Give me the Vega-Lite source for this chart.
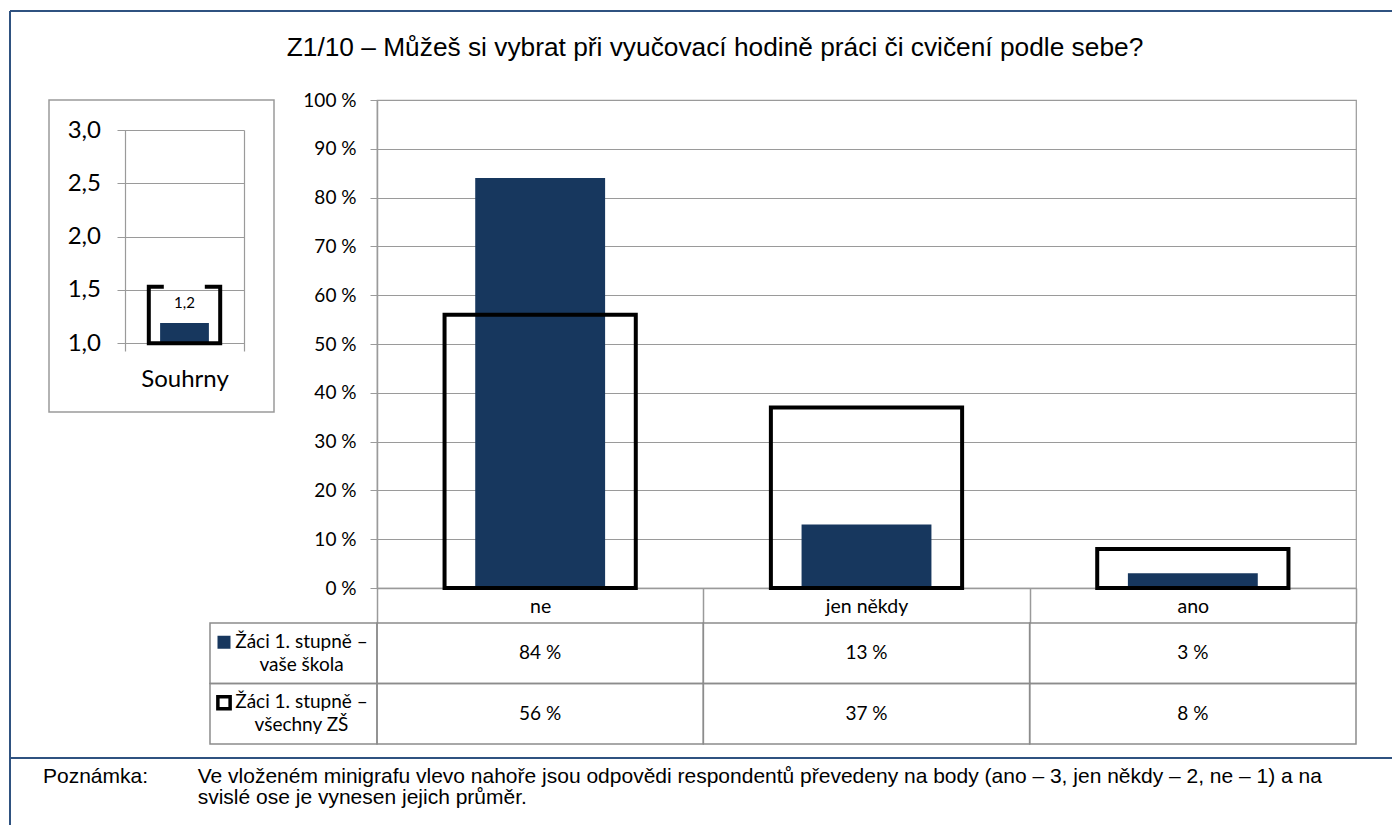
{
  "$schema": "https://vega.github.io/schema/vega-lite/v6.json",
  "padding": {"left": 9, "top": 10, "right": 0, "bottom": 0},
  "background": "white",
  "columns": 3,
  "align": "each",
  "bounds": "flush",
  "spacing": 0,
  "config": {
    "locale": {"number": {"decimal": ",", "thousands": " ", "grouping": [3], "currency": ["", " Kč"]}},
    "font": "Lato",
    "view": {"stroke": null},
    "axis": {"labelFont": "Lato", "labelColor": "#000000", "labelFontSize": 19, "title": null},
    "text": {"font": "Lato", "color": "#000000"}
  },
  "concat": [
    {
      "width": 39,
      "height": 89,
      "view": {"stroke": "#2F5280", "strokeWidth": 2, "strokeDash": [39, 128, 89, 0]},
      "data": {"values": []},
      "mark": "point"
    },
    {
      "width": 328,
      "height": 89,
      "view": {"stroke": "#2F5280", "strokeWidth": 2, "strokeDash": [328, 506]},
      "data": {"values": []},
      "mark": "point"
    },
    {
      "width": 1017,
      "height": 89,
      "view": {"stroke": "#2F5280", "strokeWidth": 2, "strokeDash": [1017, 1195]},
      "data": {"values": [{"t": "Z1/10 – Můžeš si vybrat při vyučovací hodině práci či cvičení podle sebe?"}]},
      "mark": {"type": "text", "font": "Liberation Sans", "fontSize": 26.3, "dx": -170.5, "dy": -7.5, "baseline": "middle", "align": "center", "color": "#000000"},
      "encoding": {"text": {"field": "t"}}
    },
    {
      "width": 39,
      "height": 523,
      "view": {"stroke": "#2F5280", "strokeWidth": 2, "strokeDash": [0, 601, 523, 0]},
      "data": {"values": []},
      "mark": "point"
    },
    {
      "width": 225,
      "height": 312,
      "view": {"stroke": "#9A9A9A", "strokeWidth": 1.5},
      "data": {"values": [{"kategorie": "Souhrny", "skola": 1.19, "vsechny": 1.53}]},
      "encoding": {
        "x": {
          "field": "kategorie", "type": "nominal",
          "scale": {"paddingInner": 0, "paddingOuter": 0.4454, "align": 0.717},
          "axis": {"orient": "bottom", "offset": -61, "domain": false, "tickBand": "extent", "tickSize": -221, "tickColor": "#9A9A9A", "tickWidth": 1.2, "labelPadding": 249, "labelBaseline": "middle", "labelAngle": 0, "labelFontSize": 24, "title": null}
        }
      },
      "layer": [
        {
          "mark": {"type": "bar", "width": {"band": 0.41}, "color": "#17375E"},
          "encoding": {
            "y": {
              "field": "skola", "type": "quantitative",
              "scale": {"domain": [0.356, 3.2813], "nice": false, "zero": false},
              "axis": {"orient": "left", "offset": -68, "values": [1, 1.5, 2, 2.5, 3], "labelExpr": "replace(format(datum.value, '.1f'), '.', ',')", "domain": false, "grid": false, "ticks": true, "tickSize": -127, "tickColor": "#9A9A9A", "tickWidth": 1.2, "labelPadding": 143.5, "labelFontSize": 24, "title": null}
            },
            "y2": {"datum": 1}
          }
        },
        {
          "mark": {"type": "bar", "width": {"band": 0.6}, "fill": "transparent", "stroke": "#000000", "strokeWidth": 4, "strokeDash": [15, 41, 2000]},
          "encoding": {
            "y": {"field": "vsechny", "type": "quantitative"},
            "y2": {"datum": 1}
          }
        },
        {
          "mark": {"type": "text", "dy": -20, "fontSize": 15, "baseline": "middle"},
          "encoding": {
            "y": {"field": "skola", "type": "quantitative"},
            "text": {"field": "skola", "type": "quantitative", "format": ".1f"}
          }
        }
      ]
    },
    {
      "width": 979,
      "height": 488,
      "view": {"stroke": "#9A9A9A", "strokeWidth": 1.2},
      "data": {"values": [
        {"odpoved": "ne", "skola": 84, "vsechny": 56},
        {"odpoved": "jen někdy", "skola": 13, "vsechny": 37},
        {"odpoved": "ano", "skola": 3, "vsechny": 8}
      ]},
      "encoding": {
        "x": {
          "field": "odpoved", "type": "nominal", "sort": ["ne", "jen někdy", "ano"],
          "scale": {"paddingInner": 0, "paddingOuter": 0},
          "axis": {"orient": "bottom", "domainColor": "#9A9A9A", "domainWidth": 1.5, "tickBand": "extent", "tickSize": 35, "tickColor": "#9A9A9A", "tickWidth": 1.5, "labelPadding": -17, "labelBaseline": "middle", "labelAngle": 0, "labelFontSize": 19.5, "title": null}
        }
      },
      "layer": [
        {
          "mark": {"type": "bar", "width": {"band": 0.398}, "color": "#17375E"},
          "encoding": {
            "y": {
              "field": "skola", "type": "quantitative",
              "scale": {"domain": [0, 100], "nice": false},
              "axis": {"values": [0, 10, 20, 30, 40, 50, 60, 70, 80, 90, 100], "labelExpr": "datum.value + ' %'", "grid": true, "gridColor": "#9A9A9A", "gridWidth": 1.2, "domainColor": "#9A9A9A", "domainWidth": 1.5, "tickColor": "#9A9A9A", "tickSize": 7, "labelPadding": 14, "labelFontSize": 19, "title": null}
            }
          }
        },
        {
          "mark": {"type": "bar", "width": {"band": 0.586}, "fill": "transparent", "stroke": "#000000", "strokeWidth": 4},
          "encoding": {"y": {"field": "vsechny", "type": "quantitative"}}
        }
      ]
    },
    {
      "width": 39,
      "height": 135,
      "view": {"stroke": "#2F5280", "strokeWidth": 2, "strokeDash": [0, 213, 135, 0]},
      "data": {"values": []},
      "mark": "point"
    },
    {
      "width": 328,
      "height": 121,
      "data": {"values": [
        {"sloupec": "legenda", "radek": "s1", "popis": "Žáci 1. stupně –\nvaše škola"},
        {"sloupec": "legenda", "radek": "s2", "popis": "Žáci 1. stupně –\nvšechny ZŠ"}
      ]},
      "encoding": {
        "x": {"field": "sloupec", "type": "nominal", "axis": null, "scale": {"paddingInner": 0, "paddingOuter": 0.482, "align": 1}},
        "y": {"field": "radek", "type": "nominal", "axis": null, "scale": {"paddingInner": 0, "paddingOuter": 0}}
      },
      "layer": [
        {"mark": {"type": "rect", "fill": "transparent", "stroke": "#8C8C8C", "strokeWidth": 1.5}},
        {
          "mark": {"type": "text", "lineBreak": "\n", "lineHeight": 23, "dx": 8, "dy": -11.5, "fontSize": 19, "baseline": "middle"},
          "encoding": {"text": {"field": "popis"}}
        },
        {
          "transform": [{"filter": "datum.radek == 's1'"}],
          "mark": {"type": "square", "size": 169, "filled": true, "color": "#17375E", "opacity": 1, "xOffset": -69.5, "yOffset": -11}
        },
        {
          "transform": [{"filter": "datum.radek == 's2'"}],
          "mark": {"type": "square", "size": 150, "filled": true, "fill": "#FFFFFF", "stroke": "#000000", "strokeWidth": 3.5, "opacity": 1, "xOffset": -69.5, "yOffset": -11}
        }
      ]
    },
    {
      "width": 979,
      "height": 121,
      "data": {"values": [
        {"odpoved": "ne", "radek": "s1", "podil": 84},
        {"odpoved": "jen někdy", "radek": "s1", "podil": 13},
        {"odpoved": "ano", "radek": "s1", "podil": 3},
        {"odpoved": "ne", "radek": "s2", "podil": 56},
        {"odpoved": "jen někdy", "radek": "s2", "podil": 37},
        {"odpoved": "ano", "radek": "s2", "podil": 8}
      ]},
      "encoding": {
        "x": {"field": "odpoved", "type": "nominal", "sort": ["ne", "jen někdy", "ano"], "axis": null, "scale": {"paddingInner": 0, "paddingOuter": 0}},
        "y": {"field": "radek", "type": "nominal", "axis": null, "scale": {"paddingInner": 0, "paddingOuter": 0}}
      },
      "layer": [
        {"mark": {"type": "rect", "fill": "transparent", "stroke": "#8C8C8C", "strokeWidth": 1.5}},
        {
          "mark": {"type": "text", "fontSize": 19, "baseline": "middle", "text": {"expr": "datum.podil + ' %'"}}
        }
      ]
    },
    {
      "width": 39,
      "height": 69,
      "view": {"stroke": "#2F5280", "strokeWidth": 2, "strokeDash": [39, 108, 69, 0]},
      "data": {"values": [{"text": "Poznámka:"}]},
      "mark": {"type": "text", "align": "left", "baseline": "middle", "dx": 13.5, "dy": -15.8, "font": "Liberation Sans", "fontSize": 21},
      "encoding": {"text": {"field": "text"}}
    },
    {
      "width": 328,
      "height": 69,
      "view": {"stroke": "#2F5280", "strokeWidth": 2, "strokeDash": [328, 466]},
      "data": {"values": [{"text": "Ve vloženém minigrafu vlevo nahoře jsou odpovědi respondentů převedeny na body (ano – 3, jen někdy – 2, ne – 1) a na\nsvislé ose je vynesen jejich průměr."}]},
      "mark": {"type": "text", "align": "left", "baseline": "middle", "dx": -15.3, "dy": -15.8, "lineBreak": "\n", "lineHeight": 21, "font": "Liberation Sans", "fontSize": 21},
      "encoding": {"text": {"field": "text"}}
    },
    {
      "width": 1017,
      "height": 69,
      "view": {"stroke": "#2F5280", "strokeWidth": 2, "strokeDash": [1017, 1155]},
      "data": {"values": []},
      "mark": "point"
    }
  ]
}
